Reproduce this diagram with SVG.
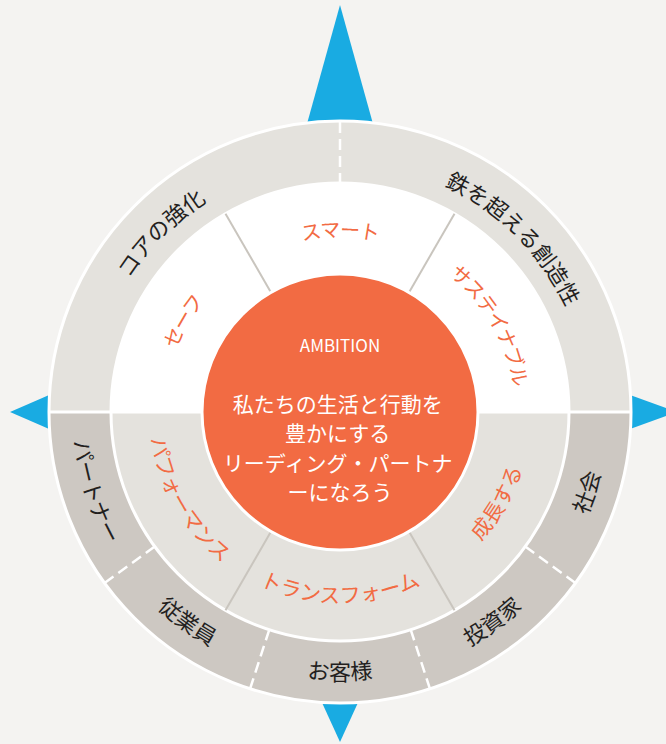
<svg xmlns="http://www.w3.org/2000/svg" xmlns:xlink="http://www.w3.org/1999/xlink" width="666" height="744" viewBox="0 0 666 744">
<style>
  .t { font-family: "Noto Sans CJK JP", "Noto Sans", sans-serif; }
  .outer { font-size: 22px; fill: #231f1e; }
  .midu { font-size: 20px; fill: #f26b43; letter-spacing: -1px; }
  .midd { font-size: 21px; fill: #f26b43; }
  .ring { fill: none; stroke: #ffffff; stroke-width: 3; }
  .dash { stroke: #ffffff; stroke-width: 2.5; stroke-dasharray: 11 6; }
  .sep { stroke: #c9c5be; stroke-width: 2; }
  .arrow { fill: #19abe2; }
  .center-t { font-family: "Noto Sans CJK JP", "Noto Sans", sans-serif; fill: #ffffff; text-anchor: middle; }
</style>
<defs>
  <path id="pOutUp" d="M 163.93 235.93 A 249 249 0 0 1 516.07 235.93"/>
  <path id="pOutDn" d="M 150.50 601.50 A 268 268 0 0 0 529.50 601.50"/>
  <path id="pMidUp" d="M 216.26 288.26 A 175 175 0 0 1 463.74 288.26"/>
  <path id="pMidDn" d="M 204.94 547.06 A 191 191 0 0 0 475.06 547.06"/>
</defs>
<rect x="0" y="0" width="666" height="744" fill="#f4f3f1"/>

<g id="compass">
  <polygon class="arrow" points="340,5 306.4,126 373.6,126"/>
  <polygon class="arrow" points="10,412 52,393.8 52,430.2"/>
  <polygon class="arrow" points="677,412 628,394.2 628,429.8"/>
  <polygon class="arrow" points="340,742 320.8,700 359.2,700"/>
</g>

<g id="rings">
  <path d="M 49 412 A 291 291 0 0 1 631 412 Z" fill="#e4e2dd"/>
  <path d="M 49 412 A 291 291 0 0 0 631 412 Z" fill="#cdc8c2"/>
  <path d="M 111 412 A 229 229 0 0 1 569 412 Z" fill="#ffffff"/>
  <path d="M 111 412 A 229 229 0 0 0 569 412 Z" fill="#e4e2dd"/>
  <line x1="49" y1="412" x2="631" y2="412" stroke="#ffffff" stroke-width="3"/>
  <circle class="ring" cx="340" cy="412" r="291"/>
  <circle class="ring" cx="340" cy="412" r="229"/>
</g>

<g id="connectors">
  <line class="dash" x1="340" y1="122" x2="340" y2="183" stroke-dasharray="10 5"/>
  <line class="dash" x1="575.42" y1="583.05" x2="525.27" y2="546.60"/>
  <line class="dash" x1="429.92" y1="688.76" x2="410.77" y2="629.79"/>
  <line class="dash" x1="250.08" y1="688.76" x2="269.23" y2="629.79"/>
  <line class="dash" x1="104.58" y1="583.05" x2="154.73" y2="546.60"/>
  <line class="sep" x1="271" y1="292.49" x2="225.5" y2="213.68"/>
  <line class="sep" x1="409" y1="292.49" x2="454.5" y2="213.68"/>
  <line class="sep" x1="409" y1="531.51" x2="454.5" y2="610.32"/>
  <line class="sep" x1="271" y1="531.51" x2="225.5" y2="610.32"/>
</g>

<g id="outer-core">
  <text class="t outer" transform="rotate(-45 340 412)"><textPath xlink:href="#pOutUp" href="#pOutUp" startOffset="50%" text-anchor="middle">コアの強化</textPath></text>
</g>
<g id="outer-creativity">
  <text class="t outer" transform="rotate(45 340 412)"><textPath xlink:href="#pOutUp" href="#pOutUp" startOffset="50%" text-anchor="middle">鉄を超える創造性</textPath></text>
</g>
<g id="outer-partner">
  <text class="t outer" transform="rotate(72 340 412)"><textPath xlink:href="#pOutDn" href="#pOutDn" startOffset="50%" text-anchor="middle">パートナー</textPath></text>
</g>
<g id="outer-employees">
  <text class="t outer" transform="rotate(36 340 412)"><textPath xlink:href="#pOutDn" href="#pOutDn" startOffset="50%" text-anchor="middle">従業員</textPath></text>
</g>
<g id="outer-customers">
  <text class="t outer"><textPath xlink:href="#pOutDn" href="#pOutDn" startOffset="50%" text-anchor="middle">お客様</textPath></text>
</g>
<g id="outer-investors">
  <text class="t outer" transform="rotate(-36 340 412)"><textPath xlink:href="#pOutDn" href="#pOutDn" startOffset="50%" text-anchor="middle">投資家</textPath></text>
</g>
<g id="outer-society">
  <text class="t outer" transform="rotate(-72 340 412)"><textPath xlink:href="#pOutDn" href="#pOutDn" startOffset="50%" text-anchor="middle">社会</textPath></text>
</g>

<g id="mid-safe">
  <text class="t midu" transform="rotate(-60 340 412)"><textPath xlink:href="#pMidUp" href="#pMidUp" startOffset="50%" text-anchor="middle">セーフ</textPath></text>
</g>
<g id="mid-smart">
  <text class="t midu"><textPath xlink:href="#pMidUp" href="#pMidUp" startOffset="50%" text-anchor="middle">スマート</textPath></text>
</g>
<g id="mid-sustainable">
  <text class="t midu" transform="rotate(60 340 412)"><textPath xlink:href="#pMidUp" href="#pMidUp" startOffset="50%" text-anchor="middle">サステイナブル</textPath></text>
</g>
<g id="mid-performance">
  <text class="t midd" transform="rotate(60 340 412)"><textPath xlink:href="#pMidDn" href="#pMidDn" startOffset="50%" text-anchor="middle">パフォーマンス</textPath></text>
</g>
<g id="mid-transform">
  <text class="t midd"><textPath xlink:href="#pMidDn" href="#pMidDn" startOffset="50%" text-anchor="middle">トランスフォーム</textPath></text>
</g>
<g id="mid-grow">
  <text class="t midd" transform="rotate(-60 340 412)"><textPath xlink:href="#pMidDn" href="#pMidDn" startOffset="50%" text-anchor="middle">成長する</textPath></text>
</g>

<g id="ambition">
  <circle cx="340" cy="412" r="138" fill="#f26b43" stroke="#ffffff" stroke-width="3"/>
  <text class="center-t" x="340" y="352" font-size="17">AMBITION</text>
  <text class="center-t" font-size="21">
    <tspan x="340" y="412">私たちの生活と行動を</tspan>
    <tspan x="340" y="441">豊かにする</tspan>
    <tspan x="340" y="471">リーディング・パートナ</tspan>
    <tspan x="340" y="500">ーになろう</tspan>
  </text>
</g>
</svg>
